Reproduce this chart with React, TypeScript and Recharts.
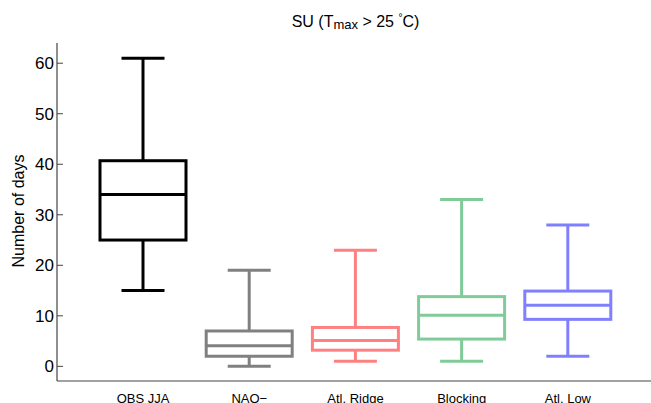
import React from 'react';
import { ComposedChart, Bar, XAxis, YAxis } from 'recharts';

const categories = ['OBS JJA', 'NAO\u2212', 'Atl. Ridge', 'Blocking', 'Atl. Low'];
const whiskerLow = [15, 0, 1, 1, 2];
const quartile1 = [25, 2, 3.2, 5.4, 9.3];
const medians = [34, 4.1, 5.1, 10.1, 12.1];
const quartile3 = [40.7, 7, 7.7, 13.8, 14.9];
const whiskerHigh = [61, 19, 23, 33, 28];
const boxColors = ['#000000', '#808080', '#FF8080', '#80CC99', '#8080FF'];
const yTicks = [0, 10, 20, 30, 40, 50, 60];

const FONT = "'Liberation Sans', Arial, Helvetica, sans-serif";
const FRAME = '#444444';

const data = categories.map((name, i) => ({
  name,
  lo: whiskerLow[i],
  q1: quartile1[i],
  med: medians[i],
  q3: quartile3[i],
  hi: whiskerHigh[i],
  color: boxColors[i],
}));

/* box drawn inside the range bar [lo, hi]; bar height gives px per unit */
function BoxShape(props: any) {
  const { x, y, width, height, payload } = props;
  if (!payload) return null;
  const { lo, q1, med, q3, hi, color } = payload;
  const k = height / (hi - lo);
  const yOf = (v: number) => y + (hi - v) * k;
  const cx = x + width / 2;
  const capHalf = width / 4;
  const sw = 3;
  return (
    <g stroke={color} strokeWidth={sw} fill="none">
      <line x1={cx - capHalf} x2={cx + capHalf} y1={yOf(hi)} y2={yOf(hi)} />
      <line x1={cx} x2={cx} y1={yOf(hi)} y2={yOf(q3)} />
      <rect x={x} y={yOf(q3)} width={width} height={yOf(q1) - yOf(q3)} />
      <line x1={x} x2={x + width} y1={yOf(med)} y2={yOf(med)} />
      <line x1={cx} x2={cx} y1={yOf(q1)} y2={yOf(lo)} />
      <line x1={cx - capHalf} x2={cx + capHalf} y1={yOf(lo)} y2={yOf(lo)} />
    </g>
  );
}

function LeftTick({ x, y, payload }: any) {
  return (
    <g>
      <line x1={x} x2={x + 6} y1={y} y2={y} stroke={FRAME} strokeWidth={1} />
      <text x={x - 3} y={y} dy="0.36em" textAnchor="end" fontSize={17} fill="#000" fontFamily={FONT}>
        {payload.value}
      </text>
    </g>
  );
}

function RightTick({ x, y }: any) {
  return <line x1={x - 4} x2={x} y1={y} y2={y} stroke={FRAME} strokeWidth={1} />;
}

function BottomTick({ x, y, payload }: any) {
  return (
    <text x={x} y={y + 20} textAnchor="middle" fontSize={13} fill="#000" fontFamily={FONT}>
      {payload.value}
    </text>
  );
}

export default function App() {
  return (
    <div style={{ position: 'fixed', left: 0, top: 0, width: 651, height: 403, background: '#fff', overflow: 'hidden' }}>
      <div
        style={{
          position: 'absolute', left: 0, top: 12, width: 651, paddingLeft: 60, boxSizing: 'border-box',
          textAlign: 'center', fontFamily: FONT, fontSize: 16, color: '#000', lineHeight: '20px',
        }}
      >
        SU (T<span style={{ fontSize: 13, position: 'relative', top: 2 }}>max</span> &gt; 25 <span style={{ fontSize: 10, position: 'relative', top: -6 }}>°</span>C)
      </div>
      <div
        style={{
          position: 'absolute', left: 19, top: 211, transform: 'translate(-50%, -50%) rotate(-90deg)',
          whiteSpace: 'nowrap', fontFamily: FONT, fontSize: 16, color: '#000',
        }}
      >
        Number of days
      </div>
      <ComposedChart
        width={651}
        height={403}
        data={data}
        margin={{ top: 43, right: 0, bottom: 0, left: 0 }}
        style={{ position: 'absolute', left: 0, top: 0 }}
      >
        <XAxis
          dataKey="name"
          height={22}
          padding={{ left: 33, right: 30 }}
          axisLine={{ stroke: FRAME, strokeWidth: 1.2 }}
          tickLine={false}
          tickSize={0}
          tick={<BottomTick />}
          interval={0}
        />
        <XAxis
          xAxisId="top"
          orientation="top"
          dataKey="name"
          height={0}
          axisLine={{ stroke: FRAME, strokeWidth: 1.2 }}
          tick={false}
          tickLine={false}
        />
        <YAxis
          domain={[-2.9, 64]}
          ticks={yTicks}
          width={57}
          allowDataOverflow
          axisLine={{ stroke: FRAME, strokeWidth: 1.2 }}
          tickLine={false}
          tickSize={0}
          tickMargin={0}
          tick={<LeftTick />}
        />
        <YAxis
          yAxisId="r"
          orientation="right"
          domain={[-2.9, 64]}
          ticks={yTicks}
          width={0}
          allowDataOverflow
          axisLine={false}
          tickLine={false}
          tickSize={0}
          tickMargin={0}
          tick={<RightTick />}
        />
        <Bar
          dataKey={(d: any) => [d.lo, d.hi]}
          barSize={86}
          shape={<BoxShape />}
          isAnimationActive={false}
        />
      </ComposedChart>
    </div>
  );
}
